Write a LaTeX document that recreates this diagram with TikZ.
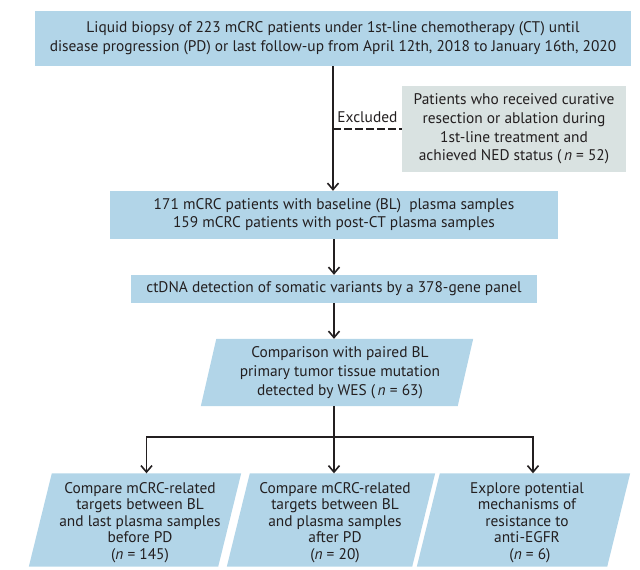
\documentclass[tikz,border=0pt]{standalone}
\usepackage{fontspec}
\setmainfont{PT Sans}
\usetikzlibrary{arrows.meta,calc,backgrounds}
\definecolor{boxblue}{RGB}{178,213,232}
\definecolor{boxgrey}{RGB}{217,226,225}
\definecolor{ink}{RGB}{35,31,32}
\newcommand\pgramfill[3]{%
  \fill[boxblue] ($(#1.north west)+(#2-#3,0)$) -- ($(#1.north east)+(-#3,0)$)
    -- ($(#1.south east)+(-#2-#3,0)$) -- ($(#1.south west)+(-#3,0)$) -- cycle;}
\newcommand\topstrut{\rule{0pt}{16pt}}
\begin{document}
\begin{tikzpicture}[x=1pt,y=-1pt,
  every node/.style={text=ink},
  bluebox/.style={fill=boxblue, align=center, inner sep=0pt},
  greybox/.style={fill=boxgrey, align=center, inner sep=0pt},
  pgram/.style={align=center, inner sep=0pt},
  arr/.style={draw=ink, line width=1.6pt, -{Straight Barb[length=6.5pt,width=11pt]}},
  link/.style={draw=ink, line width=1.6pt}]
\useasboundingbox (0,0) rectangle (640,570);

\node[bluebox, minimum width=596pt, minimum height=55pt, font=\fontsize{15.4}{19}\selectfont] (top) at (333,38.5)
  {Liquid biopsy of 223 mCRC patients under 1st-line chemotherapy (CT) until\\
   disease progression (PD) or last follow-up from April 12th, 2018 to January 16th, 2020};

\node[greybox, minimum width=224pt, minimum height=86pt, font=\fontsize{15.4}{18.7}\selectfont] (excl) at (514,129)
  {Patients who received curative\\resection or ablation during\\1st-line treatment and\\achieved NED status (\,\textit{n} = 52)};

\node[bluebox, minimum width=448pt, minimum height=48pt, font=\fontsize{15.4}{18}\selectfont] (b2) at (334,215)
  {171 mCRC patients with baseline (BL)\ \ plasma samples\\159 mCRC patients with post-CT plasma samples};

\node[bluebox, minimum width=406pt, minimum height=28pt, font=\fontsize{15.4}{18}\selectfont] (b3) at (334,289)
  {ctDNA detection of somatic variants by a 378-gene panel};

\node[pgram, minimum width=272pt, minimum height=67pt, font=\fontsize{15.4}{19}\selectfont] (para) at (340,372.5)
  {Comparison with paired BL\\primary tumor tissue mutation\\detected by WES (\,\textit{n} = 63)};

\node[pgram, minimum width=212pt, minimum height=93pt, font=\fontsize{15.4}{16.5}\selectfont] (A) at (140,520)
  {\topstrut Compare mCRC-related\\targets between BL\\and last plasma samples\\before PD\\(\textit{n} = 145)};
\node[pgram, minimum width=208pt, minimum height=93pt, font=\fontsize{15.4}{16.5}\selectfont] (B) at (335,520)
  {\topstrut Compare mCRC-related\\targets between BL\\and plasma samples\\after PD\\(\textit{n} = 20)};
\node[pgram, minimum width=213pt, minimum height=93pt, font=\fontsize{15.4}{16.5}\selectfont] (C) at (527,520)
  {\topstrut Explore potential\\mechanisms of\\resistance to\\anti-EGFR\\\hspace*{6pt}(\textit{n} = 6)};

\begin{scope}[on background layer]
  \pgramfill{para}{15.5}{3}
  \pgramfill{A}{23}{5}
  \pgramfill{B}{23}{4}
  \pgramfill{C}{23}{3.5}
\end{scope}

\draw[arr] (top.south) -- (top.south |- b2.north);
\draw[link, dash pattern=on 7.5pt off 3.5pt] (top.south |- excl.west) --
  node[midway, yshift=12pt, inner sep=0pt, font=\fontsize{15.4}{16}\selectfont] {Excluded} (excl.west);
\draw[arr] (b2.south) -- (b2.south |- b3.north);
\draw[arr] (b3.south) -- (b3.south |- para.north);
\coordinate (j) at (334,437);
\draw[link] (para.south -| j) -- (j);
\draw[arr] (j) -| ([xshift=6.5pt]A.north);
\draw[arr] (j) -- (j |- B.north);
\draw[arr] (j) -| ([xshift=6pt]C.north);
\end{tikzpicture}
\end{document}
